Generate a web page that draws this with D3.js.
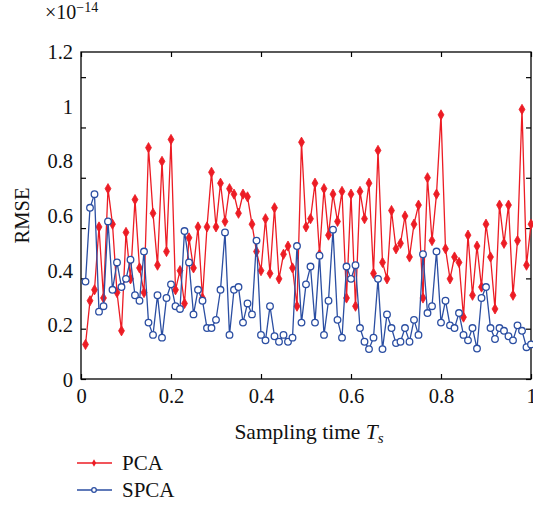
<!DOCTYPE html>
<html>
<head>
<meta charset="utf-8">
<script src="https://cdn.jsdelivr.net/npm/d3@7"></script>
<style>
  html, body { margin: 0; padding: 0; background: #fff; }
  svg { display: block; }
  text { font-family: "Liberation Serif", "Times New Roman", serif; fill: #111; }
</style>
</head>
<body>
<svg id="chart" width="533" height="506"></svg>
<script>
// ---- data ----
const samplingTimes = [
  0.01,0.02,0.03,0.04,0.05,0.06,0.07,0.08,0.09,0.10,
  0.11,0.12,0.13,0.14,0.15,0.16,0.17,0.18,0.19,0.20,
  0.21,0.22,0.23,0.24,0.25,0.26,0.27,0.28,0.29,0.30,
  0.31,0.32,0.33,0.34,0.35,0.36,0.37,0.38,0.39,0.40,
  0.41,0.42,0.43,0.44,0.45,0.46,0.47,0.48,0.49,0.50,
  0.51,0.52,0.53,0.54,0.55,0.56,0.57,0.58,0.59,0.60,
  0.61,0.62,0.63,0.64,0.65,0.66,0.67,0.68,0.69,0.70,
  0.71,0.72,0.73,0.74,0.75,0.76,0.77,0.78,0.79,0.80,
  0.81,0.82,0.83,0.84,0.85,0.86,0.87,0.88,0.89,0.90,
  0.91,0.92,0.93,0.94,0.95,0.96,0.97,0.98,0.99,1.00
];
const pcaValues = [
  0.13,0.29,0.33,0.56,0.30,0.70,0.57,0.32,0.18,0.54,
  0.37,0.66,0.41,0.32,0.85,0.61,0.42,0.80,0.47,0.88,
  0.33,0.40,0.28,0.52,0.41,0.56,0.30,0.56,0.76,0.56,
  0.72,0.58,0.70,0.68,0.61,0.68,0.67,0.57,0.47,0.40,
  0.59,0.39,0.63,0.37,0.46,0.49,0.41,0.27,0.87,0.56,
  0.59,0.72,0.46,0.70,0.53,0.68,0.58,0.69,0.30,0.68,
  0.27,0.69,0.59,0.72,0.39,0.84,0.43,0.37,0.62,0.48,
  0.50,0.60,0.45,0.57,0.64,0.30,0.74,0.51,0.68,0.97,
  0.48,0.37,0.45,0.43,0.23,0.53,0.31,0.49,0.34,0.57,
  0.45,0.26,0.64,0.50,0.64,0.31,0.51,0.99,0.42,0.57
];
const spcaValues = [
  0.36,0.63,0.68,0.25,0.27,0.58,0.33,0.43,0.34,0.37,
  0.44,0.31,0.29,0.47,0.21,0.165,0.31,0.155,0.30,0.35,
  0.27,0.26,0.545,0.43,0.24,0.33,0.29,0.19,0.19,0.22,
  0.33,0.54,0.165,0.33,0.34,0.21,0.28,0.24,0.51,0.165,
  0.145,0.27,0.16,0.14,0.165,0.14,0.155,0.49,0.21,0.35,
  0.415,0.21,0.455,0.165,0.29,0.55,0.22,0.155,0.415,0.37,
  0.42,0.19,0.14,0.113,0.155,0.37,0.113,0.24,0.19,0.135,
  0.14,0.19,0.14,0.22,0.165,0.46,0.245,0.27,0.47,0.21,
  0.29,0.20,0.19,0.245,0.165,0.145,0.19,0.115,0.30,0.34,
  0.19,0.15,0.19,0.18,0.16,0.145,0.20,0.18,0.12,0.13
];
const seriesNames = ["PCA", "SPCA"];
const xTickValues = [0, 0.2, 0.4, 0.6, 0.8, 1];
const yTickValues = [0, 0.2, 0.4, 0.6, 0.8, 1, 1.2];
const yLabel = "RMSE";
const xLabel = "Sampling time ";
const exponentBase = "\u00d710";
const exponentPower = "\u221214";

// ---- layout ----
const svg = d3.select("#chart");
const pL = 81, pR = 531, pT = 52, pB = 380, axisY = 379;
const RED = "#ec1c24", BLUE = "#2b4ea2";

const x = d3.scaleLinear().domain([0, 1]).range([pL, pR]);
const y = d3.scaleLinear().domain([0, 1.2]).range([pB, pT]);
// the tick marks of the original are spaced slightly tighter than its labels
const yTick = d3.scaleLinear().domain([0, 1.3]).range([axisY, pT]);

// frame
svg.append("rect").attr("x", pL).attr("y", pT)
  .attr("width", pR - pL).attr("height", axisY - pT)
  .attr("fill", "none").attr("stroke", "#000").attr("stroke-width", 1.3);

function tickMarks(g) {
  g.select(".domain").remove();
  g.selectAll(".tick text").remove();
  g.selectAll(".tick line").attr("stroke", "#000").attr("stroke-width", 1.2);
}
svg.append("g").attr("transform", `translate(0,${axisY})`)
  .call(d3.axisBottom(x).tickValues(xTickValues).tickSize(-5)).call(tickMarks);
svg.append("g").attr("transform", `translate(0,${pT})`)
  .call(d3.axisTop(x).tickValues(xTickValues).tickSize(-5)).call(tickMarks);
svg.append("g").attr("transform", `translate(${pL},0)`)
  .call(d3.axisLeft(yTick).tickValues(yTickValues).tickSize(-5)).call(tickMarks);
svg.append("g").attr("transform", `translate(${pR},0)`)
  .call(d3.axisRight(yTick).tickValues(yTickValues).tickSize(-5)).call(tickMarks);

// tick labels
function labelsOnly(g) {
  g.select(".domain").remove();
  g.selectAll(".tick line").remove();
  g.selectAll(".tick text").style("font-family", "Liberation Serif, serif")
    .style("font-size", "20.5px").attr("fill", "#111");
}
svg.append("g").attr("transform", `translate(0,381)`)
  .call(d3.axisBottom(x).tickValues(xTickValues).tickSize(0).tickPadding(7)
    .tickFormat(d3.format("")))
  .call(labelsOnly);
svg.append("g").attr("transform", `translate(${pL},0)`)
  .call(d3.axisLeft(y).tickValues(yTickValues).tickSize(0).tickPadding(8)
    .tickFormat(d3.format("")))
  .call(labelsOnly);

// exponent
const ex = svg.append("text").attr("x", 45).attr("y", 19).style("font-size", "20px");
ex.append("tspan").text(exponentBase);
ex.append("tspan").attr("dy", -7).style("font-size", "14px").text(exponentPower);

// axis titles
const xt = svg.append("text").attr("x", (pL + pR) / 2 + 3).attr("y", 439)
  .attr("text-anchor", "middle").style("font-size", "21.5px");
xt.append("tspan").text(xLabel);
xt.append("tspan").style("font-style", "italic").text("T");
xt.append("tspan").attr("dy", 4).style("font-style", "italic").style("font-size", "15px").text("s");

svg.append("text").attr("transform", `translate(29,${(pT + axisY) / 2}) rotate(-90)`)
  .attr("text-anchor", "middle").style("font-size", "20.5px").text(yLabel);

// series
const pcaData = samplingTimes.map((t, i) => [t, pcaValues[i]]);
const spcaData = samplingTimes.map((t, i) => [t, spcaValues[i]]);
const line = d3.line().x(d => x(d[0])).y(d => y(d[1]));
const diamond = d3.symbol().type(d3.symbolDiamond).size(30);

svg.append("path").datum(pcaData).attr("d", line)
  .attr("fill", "none").attr("stroke", RED).attr("stroke-width", 1.3);
svg.append("g").selectAll("path").data(pcaData).join("path")
  .attr("transform", d => `translate(${x(d[0])},${y(d[1])})`)
  .attr("d", diamond).attr("fill", RED).attr("stroke", RED).attr("stroke-width", 0.8);

svg.append("path").datum(spcaData).attr("d", line)
  .attr("fill", "none").attr("stroke", BLUE).attr("stroke-width", 1.3);
svg.append("g").selectAll("circle").data(spcaData).join("circle")
  .attr("cx", d => x(d[0])).attr("cy", d => y(d[1])).attr("r", 3.3)
  .attr("fill", "#fff").attr("stroke", BLUE).attr("stroke-width", 1.3);

// legend
const legend = svg.append("g");
const legY = [463, 490];
seriesNames.forEach((name, i) => {
  const col = i === 0 ? RED : BLUE;
  legend.append("line").attr("x1", 77).attr("x2", 112).attr("y1", legY[i]).attr("y2", legY[i])
    .attr("stroke", col).attr("stroke-width", 1.5);
  if (i === 0) {
    legend.append("path").attr("transform", `translate(94,${legY[i]})`)
      .attr("d", d3.symbol().type(d3.symbolDiamond).size(16)).attr("fill", col);
  } else {
    legend.append("circle").attr("cx", 94).attr("cy", legY[i]).attr("r", 2.3)
      .attr("fill", "#fff").attr("stroke", col).attr("stroke-width", 1.3);
  }
  legend.append("text").attr("x", 122).attr("y", legY[i] + 7)
    .style("font-size", "21px").text(name);
});
</script>
</body>
</html>
